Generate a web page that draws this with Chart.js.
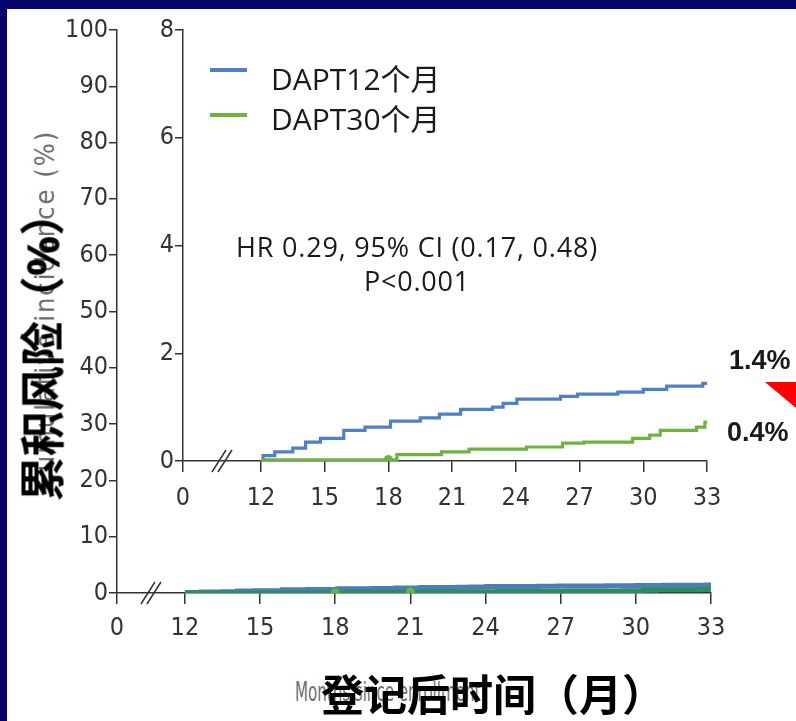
<!DOCTYPE html>
<html>
<head>
<meta charset="utf-8">
<script src="https://cdn.jsdelivr.net/npm/chart.js@4"></script>
<style>
  body { margin: 0; background: #fff; }
  #page { position: relative; width: 796px; height: 721px; background: #fff; overflow: hidden; }
  .box { position: absolute; left: 0; top: 0; width: 796px; height: 721px; }
  .txt { position: absolute; white-space: nowrap; font-family: "Open Sans", "Noto Sans CJK SC", sans-serif; color: #1a1a1a; line-height: 1; }
  .rot { transform: translate(-50%, -50%) rotate(-90deg); }
  .swatch { position: absolute; width: 37px; height: 4px; }
</style>
</head>
<body>
<div id="page">
  <div style="position:absolute;left:0;top:0;width:796px;height:9px;background:#05056b"></div>
  <div style="position:absolute;left:0;top:0;width:7px;height:721px;background:#05056b"></div>

  <!-- ghost of the original English titles -->
  <div class="txt rot" style="left:44px;top:310px;font:27px 'DejaVu Sans Condensed',sans-serif;letter-spacing:2px;color:#707070">Cumulative incidence (%)</div>
  <div class="txt" style="left:295px;top:676px;font:27px 'DejaVu Sans Condensed',sans-serif;color:#707070;transform:scaleX(0.62);transform-origin:left center">Months since enrollment</div>

  <div class="box"><canvas id="outer"></canvas></div>
  <div class="box"><canvas id="inner"></canvas></div>

  <div class="swatch" style="left:210px;top:68px;background:#4f7fc4"></div>
  <div class="swatch" style="left:210px;top:113px;background:#6db33f"></div>
  <div class="txt" id="leg1" style="left:271px;top:64px;font-size:30px"></div>
  <div class="txt" id="leg2" style="left:271px;top:104px;font-size:30px"></div>

  <div class="txt" style="left:417px;top:230px;font-size:27px;letter-spacing:0.8px;transform:translateX(-50%);text-align:center;line-height:34px">HR 0.29, 95% CI (0.17, 0.48)<br>P&lt;0.001</div>

  <div class="txt" id="end1" style="left:729px;top:345px;font:bold 27px 'Liberation Sans',sans-serif"></div>
  <div class="txt" id="end2" style="left:727px;top:417px;font:bold 27px 'Liberation Sans',sans-serif"></div>
  <div style="position:absolute;left:765px;top:382px;width:31px;height:26px;background:#f00;clip-path:polygon(0 0,100% 0,100% 100%)"></div>

  <div class="txt rot" style="left:42px;top:346px;font-weight:bold;font-size:45px;color:#000">累积风险（%）</div>
  <div class="txt" style="left:321px;top:673px;font-weight:bold;font-size:43px;color:#000">登记后时间（月）</div>
</div>

<script>
// x axis is broken between 0 and 12
const xTickValues = [0, 12, 15, 18, 21, 24, 27, 30, 33];
const xTickLabels = ['0', '12', '15', '18', '21', '24', '27', '30', '33'];

const seriesLabels = ['DAPT12个月', 'DAPT30个月'];
const endLabels = ['1.4%', '0.4%'];

// DAPT12 (blue) step curve, months / cumulative risk %
const blueMonths = [12, 12.1, 12.65, 13.5, 14.1, 14.8, 15.9, 16.9, 18.1, 19.5, 20.4, 21.4, 22.9, 23.4, 24.05, 26.1, 26.9, 28.8, 30.0, 31.1, 32.8, 33];
const blueRisk   = [0, 0.1, 0.17, 0.24, 0.35, 0.42, 0.57, 0.63, 0.74, 0.8, 0.87, 0.96, 1.0, 1.07, 1.15, 1.2, 1.24, 1.28, 1.33, 1.39, 1.44, 1.44];

// DAPT30 (green)
const greenMonths = [12, 18.4, 20.5, 21.8, 24.5, 26.2, 27.2, 29.5, 30.3, 30.8, 32.5, 32.9, 33];
const greenRisk   = [0.02, 0.12, 0.17, 0.22, 0.26, 0.33, 0.35, 0.42, 0.48, 0.57, 0.63, 0.72, 0.72];

// green dots on the curves
const innerMarkMonths = [18];
const innerMarkRisk = [0.03];
const outerMarkMonths = [18, 21];
const outerMarkRisk = [0.03, 0.17];

const outerYTicks = [0, 10, 20, 30, 40, 50, 60, 70, 80, 90, 100];
const innerYTicks = [0, 2, 4, 6, 8];

document.getElementById('leg1').textContent = seriesLabels[0];
document.getElementById('leg2').textContent = seriesLabels[1];
document.getElementById('end1').textContent = endLabels[0];
document.getElementById('end2').textContent = endLabels[1];

function pts(xs, ys) {
  return xs.map((x, i) => ({ x: x, y: ys[i] }));
}

const tickFont = { family: "'Liberation Sans Narrow', 'DejaVu Sans Condensed', sans-serif", size: 25 };
const axisColor = '#333';

// draws the // on the x axis
const breakMarks = {
  id: 'breakMarks',
  afterDraw(chart) {
    const xs = chart.scales.x, ys = chart.scales.y;
    const ctx = chart.ctx;
    const x = (xs.getPixelForValue(xs.min) + xs.getPixelForValue(12)) / 2;
    const y = ys.getPixelForValue(0);
    ctx.save();
    ctx.strokeStyle = axisColor;
    ctx.lineWidth = 1.5;
    [-3, 3].forEach(o => {
      ctx.beginPath();
      ctx.moveTo(x + o - 7, y + 11);
      ctx.lineTo(x + o + 7, y - 11);
      ctx.stroke();
    });
    ctx.restore();
  }
};

function makeChart(id, cfg) {
  return new Chart(document.getElementById(id), {
    type: 'line',
    data: {
      datasets: [
        { type: 'scatter', data: pts(cfg.markX, cfg.markY), pointRadius: 4.5, pointBackgroundColor: '#6db33f', pointBorderWidth: 0 },
        { label: seriesLabels[1], data: pts(greenMonths, greenRisk), borderColor: cfg.green, borderWidth: cfg.lw, stepped: true, pointRadius: 0, fill: false },
        { label: seriesLabels[0], data: pts(blueMonths, blueRisk), borderColor: cfg.blue, borderWidth: cfg.lw, stepped: true, pointRadius: 0, fill: false }
      ]
    },
    options: {
      responsive: true,
      maintainAspectRatio: false,
      animation: false,
      layout: { padding: cfg.pad },
      plugins: { legend: { display: false }, tooltip: { enabled: false } },
      scales: {
        x: {
          type: 'linear',
          min: cfg.xMin,
          max: 33,
          afterBuildTicks: s => { s.ticks = xTickValues.map(v => ({ value: v === 0 ? s.min : v })); },
          afterFit: s => { s.height = cfg.xH; },
          ticks: { autoSkip: false, maxRotation: 0, padding: cfg.xPad, color: axisColor, font: tickFont, callback: (v, i) => xTickLabels[i] },
          grid: { drawOnChartArea: false, tickLength: 11, color: axisColor, lineWidth: 1.5 },
          border: { color: axisColor, width: 1.5 }
        },
        y: {
          min: 0,
          max: cfg.yTicks[cfg.yTicks.length - 1],
          afterBuildTicks: s => { s.ticks = cfg.yTicks.map(v => ({ value: v })); },
          afterFit: s => { s.width = cfg.yW; },
          ticks: { padding: 1, color: axisColor, font: tickFont },
          grid: { drawOnChartArea: false, tickLength: 8, color: axisColor, lineWidth: 1.5 },
          border: { color: axisColor, width: 1.5 }
        }
      }
    },
    plugins: [breakMarks]
  });
}

makeChart('outer', {
  xMin: 9.29, yTicks: outerYTicks, yW: 117, xH: 48, xPad: 9,
  pad: { left: 0, top: 30, right: 85, bottom: 80 },
  blue: '#4a7ebb', green: '#2f8c5c', lw: 5,
  markX: outerMarkMonths, markY: outerMarkRisk
});

makeChart('inner', {
  xMin: 8.33, yTicks: innerYTicks, yW: 183, xH: 52, xPad: 11,
  pad: { left: 0, top: 30, right: 89, bottom: 208 },
  blue: '#4f7fc4', green: '#6db33f', lw: 3.2,
  markX: innerMarkMonths, markY: innerMarkRisk
});
</script>
</body>
</html>
